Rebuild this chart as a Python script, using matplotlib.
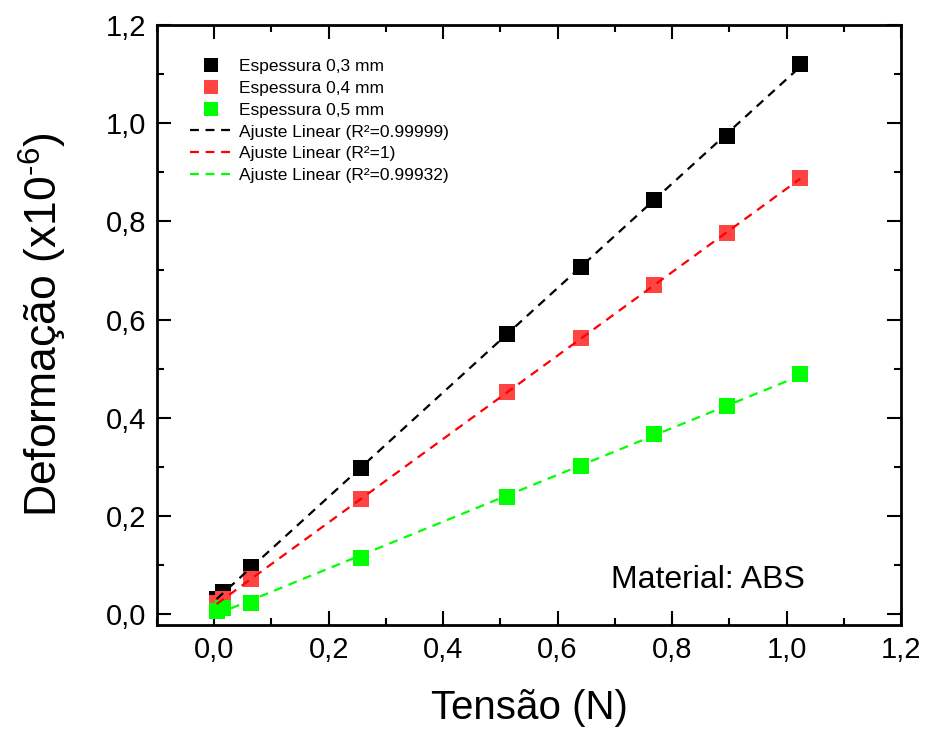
import numpy as np
import matplotlib
matplotlib.use('Agg')
import matplotlib.pyplot as plt
from matplotlib.ticker import MultipleLocator, FuncFormatter
from matplotlib.lines import Line2D

plt.rcParams['font.family'] = ['Liberation Sans', 'DejaVu Sans']
plt.rcParams['mathtext.fontset'] = 'custom'
plt.rcParams['mathtext.rm'] = 'Liberation Sans'
plt.rcParams['mathtext.it'] = 'Liberation Sans:italic'
plt.rcParams['mathtext.default'] = 'regular'

# dados (Tensão em N, Deformação x10^-6)
tensao = [0.004, 0.016, 0.064, 0.256, 0.512, 0.640, 0.768, 0.896, 1.024]
esp_03 = [0.030, 0.045, 0.096, 0.297, 0.570, 0.707, 0.843, 0.974, 1.120]
esp_04 = [0.022, 0.030, 0.071, 0.234, 0.452, 0.562, 0.670, 0.776, 0.888]
esp_05 = [0.006, 0.012, 0.022, 0.114, 0.238, 0.301, 0.367, 0.424, 0.489]

series = [('Espessura 0,3 mm', esp_03, '#000000', '#000000', '0.99999'),
          ('Espessura 0,4 mm', esp_04, '#ff4444', '#ff0000', '1'),
          ('Espessura 0,5 mm', esp_05, '#00ff00', '#00ff00', '0.99932')]

fig = plt.figure(figsize=(9.28, 7.30), dpi=100)
ax = fig.add_axes([157 / 928, 1 - 625 / 730, 744 / 928, 600 / 730])

x = np.array(tensao)
h_pts, h_lin = [], []
for i, (lab, y, cm, cl, r2) in enumerate(series):
    ax.plot(x, y, 's', color=cm, markersize=11, markeredgewidth=0, zorder=2 + i)
    a, b = np.polyfit(x, y, 1)
    ax.plot(x, a * x + b, '--', color=cl, lw=1.6, dashes=(4, 3), zorder=6)
    h_pts.append(Line2D([], [], marker='s', ls='none', color=cm, markersize=10.5,
                        markeredgewidth=0, label=lab))
    h_lin.append(Line2D([], [], ls='--', color=cl, lw=1.6, dashes=(4, 3),
                        label='Ajuste Linear (R\u00b2=' + r2 + ')'))

ax.set_xlim(-0.1, 1.2)
ax.set_ylim(-0.022, 1.2)
ax.xaxis.set_major_locator(MultipleLocator(0.2))
ax.xaxis.set_minor_locator(MultipleLocator(0.1))
ax.yaxis.set_major_locator(MultipleLocator(0.2))
ax.yaxis.set_minor_locator(MultipleLocator(0.1))
fmt = FuncFormatter(lambda v, p: ('%.1f' % v).replace('.', ','))
ax.xaxis.set_major_formatter(fmt)
ax.yaxis.set_major_formatter(fmt)

ax.tick_params(which='both', direction='in', top=True, right=True, width=1.5)
ax.tick_params(which='major', length=10, labelsize=21, pad=8)
ax.tick_params(which='minor', length=5)
for s in ax.spines.values():
    s.set_linewidth(2)

ax.set_xlabel('Tensão (N)', fontsize=29, labelpad=18)
ax.set_ylabel(r'Deformação (x10$^{\text{-}6}$)', fontsize=32, labelpad=26)

ax.legend(handles=h_pts + h_lin, loc='upper left', bbox_to_anchor=(0.044, 0.944),
          frameon=False, fontsize=12.5, handlelength=2.5, handletextpad=0.36,
          labelspacing=0.39, borderpad=0, borderaxespad=0)

ax.text(0.610, 0.062, 'Material: ABS', transform=ax.transAxes, fontsize=23,
        va='baseline', ha='left')

fig.savefig('out.png', dpi=100)
